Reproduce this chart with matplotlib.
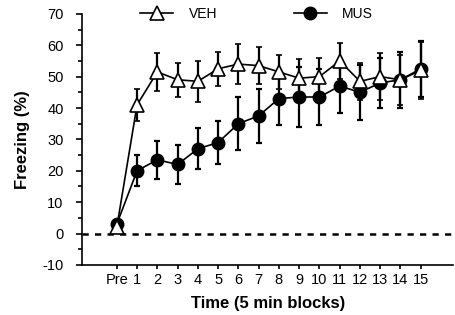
import matplotlib
matplotlib.use("Agg")
import matplotlib.pyplot as plt
from matplotlib.lines import Line2D
from matplotlib.ticker import MultipleLocator

plt.rcParams["font.family"] = ["Liberation Sans", "DejaVu Sans"]
plt.rcParams["axes.unicode_minus"] = False

# time blocks: Pre, then 1..15
blocks = ["Pre"] + [str(i) for i in range(1, 16)]
xpos = list(range(len(blocks)))

veh_mean = [2, 41, 51.5, 49, 48.5, 52.5, 54, 53.5, 51.5, 49.5, 50, 55, 48.5, 50, 49, 52]
veh_err = [1, 5, 6, 5.5, 6.5, 5.5, 6.3, 6, 5.5, 6, 6, 5.8, 6, 7.5, 8, 9]

mus_mean = [3, 20, 23.5, 22, 27, 29, 35, 37.5, 43, 43.5, 43.5, 47, 45, 48, 49, 52.5]
mus_err = [1, 5, 6, 6.2, 6.5, 7, 8.5, 8.5, 8.5, 9.5, 9, 8.5, 8.7, 8, 9, 9]

fig = plt.figure(figsize=(4.55, 3.15), dpi=100)
ax = fig.add_axes([0.181, 0.159, 0.815, 0.797])

ax.axhline(0, color="black", lw=1.8, ls=(0, (2.5, 2.5)), zorder=1)

ax.errorbar(xpos, veh_mean, yerr=veh_err, color="black", lw=1.2, elinewidth=1.6,
            capsize=2.5, capthick=1.6, marker="^", ms=9.5, mfc="white", mec="black",
            mew=1.2, zorder=4)
ax.errorbar(xpos, mus_mean, yerr=mus_err, color="black", lw=1.2, elinewidth=1.6,
            capsize=2.5, capthick=1.6, marker="o", ms=9, mfc="black", mec="black",
            zorder=3)

ax.set_xlim(-1.7, 16.6)
ax.set_ylim(-10, 70)
ax.set_xticks(xpos)
ax.set_xticklabels(blocks)
ax.yaxis.set_major_locator(MultipleLocator(10))
ax.yaxis.set_minor_locator(MultipleLocator(5))

ax.spines["top"].set_visible(False)
ax.spines["right"].set_visible(False)
ax.spines["left"].set_linewidth(1.2)
ax.spines["bottom"].set_linewidth(1.2)
ax.tick_params(axis="both", which="major", labelsize=10.5, width=1.2, length=4.5)
ax.tick_params(axis="y", which="major", pad=9)
ax.tick_params(axis="y", which="minor", width=1.2, length=3)
ax.tick_params(axis="x", length=3, pad=3)

ax.set_xlabel("Time (5 min blocks)", fontsize=12, fontweight="bold", labelpad=6)
ax.set_ylabel("Freezing (%)", fontsize=12, fontweight="bold", labelpad=9)

handles = [
    Line2D([], [], color="black", lw=1.2, marker="^", ms=9.5, mfc="white", mec="black", mew=1.2),
    Line2D([], [], color="black", lw=1.2, marker="o", ms=9, mfc="black", mec="black"),
]
ax.legend(handles, ["VEH", "MUS"], ncol=2, frameon=False, loc="center",
          bbox_to_anchor=(0.47, 1.0), fontsize=10, handlelength=2.4,
          columnspacing=5.5, handletextpad=1.1)

fig.savefig("out.png", dpi=100)
